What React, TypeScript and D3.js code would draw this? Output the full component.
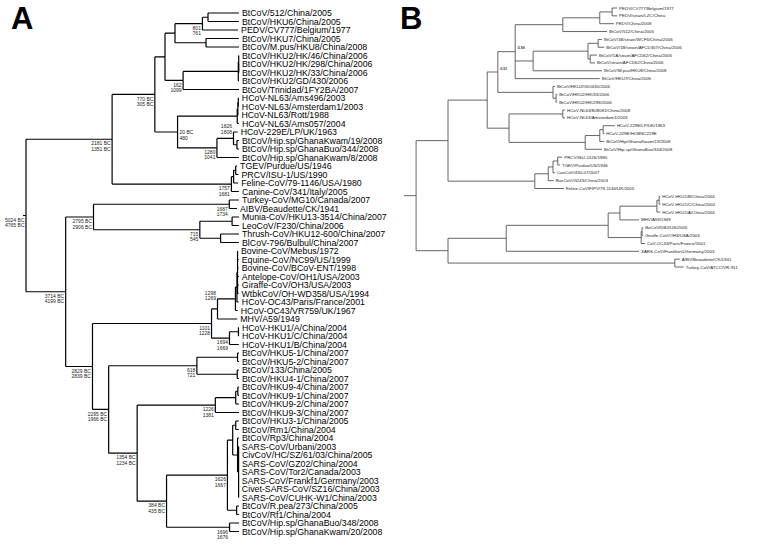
import React from 'react';
import * as d3 from 'd3';

interface Raw { name?: string; t?: number; d?: number; lab?: string[]; pos?: string; c?: Raw[] }
const L = (name: string, d?: number): Raw => ({ name, d });

// ---------------- Panel A : time-scaled tree (node ages in years; tips dated by their name) -------------
const A_batAlpha: Raw = { t: -435, c: [
  { t: -105, c: [
    { t: 801, lab: ['801', '761'], c: [
      { t: 985, c: [L('BtCoV/512/China/2005'), L('BtCoV/HKU6/China/2005')] },
      L('PEDV/CV777/Belgium/1977')] },
    { t: 919, c: [L('BtCoV/HKU7/China/2005'), L('BtCoV/M.pus/HKU8/China/2008')] }] },
  { t: 162, lab: ['162', '1099'], c: [
    { t: 1985, c: [
      { t: 1998, c: [L('BtCoV/HKU2/HK/46/China/2006'),
        { t: 2002, c: [L('BtCoV/HKU2/HK/298/China/2006'), L('BtCoV/HKU2/HK/33/China/2006')] }] },
      L('BtCoV/HKU2/GD/430/2006')] },
    L('BtCoV/Trinidad/1FY2BA/2007')] }] };

const A_nl63: Raw = { t: 1950, c: [
  { t: 1970, c: [{ t: 1985, c: [L('HCoV-NL63/Ams496/2003'), L('HCoV-NL63/Amsterdam1/2003')] }, L('HCoV-NL63/Rott/1988')] },
  L('HCoV-NL63/Ams057/2004')] };

const A_229e: Raw = { t: 1280, lab: ['1280', '1041'], c: [
  { t: 1826, lab: ['1826', '1808'], pos: 'lt', c: [L('HCoV-229E/LP/UK/1963'),
    { t: 1940, c: [L('BtCoV/Hip.sp/GhanaKwam/19/2008'), L('BtCoV/Hip.sp/GhanaBuo/344/2008')] }] },
  L('BtCoV/Hip.sp/GhanaKwam/8/2008')] };

const A_tgev: Raw = { t: 1757, lab: ['1757', '1681'], c: [
  { t: 1830, c: [{ t: 1900, c: [L('TGEV/Purdue/US/1946'), L('PRCV/ISU-1/US/1990')] }, L('Feline-CoV/79-1146/USA/1980')] },
  L('Canine-CoV/341/Italy/2005')] };

const A_alpha: Raw = { t: -2181, lab: ['2181 BC', '1351 BC'], c: [
  { t: -770, lab: ['770 BC', '305 BC'], c: [A_batAlpha, { t: -20, lab: ['20 BC', '480'], pos: 'r', c: [A_nl63, A_229e] }] },
  A_tgev] };

const A_gammaDelta: Raw = { t: -2795, lab: ['2795 BC', '2906 BC'], c: [
  { t: 1687, lab: ['1687', '1734'], c: [L('Turkey-CoV/MG10/Canada/2007'), L('AIBV/Beaudette/CK/1941')] },
  { t: 715, lab: ['715', '545'], c: [
    { t: 1780, c: [L('Munia-CoV/HKU13-3514/China/2007'), L('LeoCoV/F230/China/2006')] },
    { t: 1400, c: [L('Thrush-CoV/HKU12-600/China/2007'), L('BlCoV-796/Bulbul/China/2007')] }] }] };

const A_embeco: Raw = { t: 1101, lab: ['1101', '1228'], c: [
  { t: 1298, lab: ['1298', '1269'], pos: 'lt', c: [
    { t: 1890, c: [
      { t: 1940, c: [
        { t: 1960, c: [L('Bovine-CoV/Mebus/1972'), L('Equine-CoV/NC99/US/1999'), L('Bovine-CoV/BCoV-ENT/1998'),
          L('Antelope-CoV/OH1/USA/2003'), L('Giraffe-CoV/OH3/USA/2003'), L('WtbkCoV/OH-WD358/USA/1994')] },
        L('HCoV-OC43/Paris/France/2001')] },
      L('HCoV-OC43/VR759/UK/1967')] },
    L('MHV/A59/1949')] },
  { t: 1694, lab: ['1694', '1669'], c: [
    { t: 1990, c: [L('HCoV-HKU1/A/China/2004'), L('HCoV-HKU1/C/China/2004')] },
    L('HCoV-HKU1/B/China/2004')] }] };

const A_merbeco: Raw = { t: 618, lab: ['618', '721'], c: [
  { t: 1960, c: [L('BtCoV/HKU5-1/China/2007'), L('BtCoV/HKU5-2/China/2007')] },
  { t: 1950, c: [L('BtCoV/133/China/2005'), L('BtCoV/HKU4-1/China/2007')] }] };

const A_nobeco: Raw = { t: 1226, lab: ['1226', '1381'], c: [
  { t: 1900, c: [{ t: 1970, c: [L('BtCoV/HKU9-4/China/2007'), L('BtCoV/HKU9-1/China/2007')] }, L('BtCoV/HKU9-2/China/2007')] },
  L('BtCoV/HKU9-3/China/2007')] };

const A_sarbeco: Raw = { t: 1626, lab: ['1626', '1667'], c: [
  { t: 1800, c: [
    { t: 1900, c: [L('BtCoV/HKU3-1/China/2005'), L('BtCoV/Rm1/China/2004')] },
    { t: 1960, c: [L('BtCoV/Rp3/China/2004'),
      { t: 1995, c: [L('SARS-CoV/Urbani/2003'), L('CivCoV/HC/SZ/61/03/China/2005'), L('SARS-CoV/GZ02/China/2004'),
        L('SARS-CoV/Tor2/Canada/2003'), L('SARS-CoV/Frankf1/Germany/2003'), L('Civet-SARS-CoV/SZ16/China/2003'),
        L('SARS-CoV/CUHK-W1/China/2003')] }] }] },
  { t: 1930, c: [L('BtCoV/R.pea/273/China/2005'), L('BtCoV/Rf1/China/2004')] }] };

const A_ghanaBeta: Raw = { t: 1696, lab: ['1696', '1676'], c: [L('BtCoV/Hip.sp/GhanaBuo/348/2008'), L('BtCoV/Hip.sp/GhanaKwam/20/2008')] };

const A_beta: Raw = { t: -2829, lab: ['2829 BC', '2839 BC'], c: [
  A_embeco,
  { t: -2295, lab: ['2295 BC', '1966 BC'], c: [
    A_merbeco,
    { t: -1354, lab: ['1354 BC', '1234 BC'], c: [A_nobeco, { t: -384, lab: ['384 BC', '435 BC'], c: [A_sarbeco, A_ghanaBeta] }] }] }] };

const A_tree: Raw = { t: -5024, lab: ['5024 BC', '4765 BC'], c: [A_alpha, { t: -3714, lab: ['3714 BC', '4199 BC'], c: [A_gammaDelta, A_beta] }] };

// ---------------- Panel B : distance tree (node depth in substitutions/site) -------------
const B_bat1: Raw = { d: 0.195, lab: ['0.99'], c: [
  { d: 0.28, c: [{ d: 0.346, c: [{ d: 0.368, c: [L('PEDV/CV777/Belgium/1977', 0.377), L('PEDV/strain/LZC/China', 0.377)] }, L('PEDV/China/2008', 0.371)] }, L('BtCoV/512/China/2005', 0.359)] },
  { d: 0.227, c: [
    { d: 0.325, c: [
      { d: 0.343, c: [L('BtCoV/1B/strain/WCF6/China/2006', 0.35), L('BtCoV/1B/strain/AFCD307/China/2006', 0.354)] },
      { d: 0.329, c: [L('BtCoV/1A/strain/AFCD62/China/2006', 0.341), L('BtCoV/strain/AFCD62/China/2006', 0.3375)] }] },
    L('BtCoV/M.pus/HKU8/China/2008', 0.35)] },
  L('BtCoV/HKU7/China/2005', 0.346)] };

const B_hku2: Raw = { d: 0.2625, c: [L('BtCoV/HKU2/GD/430/2006', 0.266), { d: 0.268, c: [L('BtCoV/HKU2/HK/33/2006', 0.27), L('BtCoV/HKU2/HK/298/2006', 0.27)] }] };

const B_nl229: Raw = { d: 0.184, c: [
  { d: 0.28, c: [L('HCoV-NL63/BJ8081/China/2008', 0.284), L('HCoV-NL63/Amsterdam1/2003', 0.284)] },
  { d: 0.32, c: [
    { d: 0.346, c: [{ d: 0.352, c: [L('HCoV-229E/LP/UK/1963', 0.373), L('HCoV-229E/HOBNC229E', 0.354)] }, L('BtCoV/Hip/GhanaKwam/19/2008', 0.354)] },
    L('BtCoV/Hip.sp/GhanaBuo/344/2008', 0.35)] }] };

const B_tgev: Raw = { d: 0.23, c: [
  { d: 0.254, c: [{ d: 0.2625, c: [{ d: 0.271, c: [L('PRCV/ISU-1/US/1990', 0.279), L('TGEV/Purdue/US/1946', 0.275)] }, L('CanCoV/430-07/2007', 0.266)] }, L('RacCoV/G243/China/2003', 0.264)] },
  L('Feline-CoV/FIPV/79-1146/UK/2005', 0.282)] };

const B_beta: Raw = { d: 0.179, c: [
  { d: 0.361, c: [
    { d: 0.382, c: [{ d: 0.448, c: [{ d: 0.452, c: [L('HCoV-HKU1/B/China/2004', 0.454), L('HCoV-HKU1/C/China/2004', 0.454)] }, L('HCoV-HKU1/A/China/2004', 0.454)] }, L('MHV/A59/1949', 0.416)] },
    { d: 0.42, c: [{ d: 0.4215, c: [L('BoCoV/DB2/US/2006', 0.4235), L('Giraffe-CoV/OH3/USA/2003', 0.4235)] }, L('CoV-OC43/Paris/France/2001', 0.427)] }] },
  L('SARS-CoV/Frankfurt1/Germany/2003', 0.416)] };

const B_gamma: Raw = { d: 0.48, c: [L('AIBV/Beaudette/CK/1941', 0.489), L('Turkey-CoV/ATCC/VR-911', 0.496)] };

const B_tree: Raw = { d: 0.018, c: [
  { d: 0.075, c: [{ d: 0.145, c: [{ d: 0.164, lab: ['0.51'], c: [B_bat1, B_hku2] }, B_nl229] }, B_tgev] },
  { d: 0.075, c: [B_beta, B_gamma] }] };

// ---------------- layout helpers -------------
type P = d3.HierarchyNode<Raw> & { px: number; py: number };

function build(raw: Raw, xOf: (r: Raw) => number, yOf: (i: number) => number): P {
  const root = d3.hierarchy<Raw>(raw, r => r.c) as P;
  root.leaves().forEach((lf, i) => { (lf as P).py = yOf(i); });
  root.eachAfter(n => {
    const p = n as P;
    p.px = xOf(n.data);
    if (n.children) {
      const f = n.children[0] as P, l = n.children[n.children.length - 1] as P;
      p.py = (f.py + l.py) / 2;
    }
  });
  return root;
}

function edges(root: P, stub: number): string {
  let s = `M${root.px - stub},${root.py}H${root.px}`;
  root.each(n => {
    const p = n as P;
    if (n.parent) s += `M${(n.parent as P).px},${p.py}H${p.px}`;
    if (n.children) {
      const f = n.children[0] as P, l = n.children[n.children.length - 1] as P;
      s += `M${p.px},${f.py}V${l.py}`;
    }
  });
  return s;
}

const yearOf = (name: string) => +name.slice(-4);

export default function App() {
  const xA = d3.scaleLinear().domain([-5024, 2008]).range([26, 239]);
  const yA = d3.scaleLinear().domain([0, 61]).range([13, 531.5]);
  const rootA = build(A_tree, r => (r.name ? xA(yearOf(r.name)) : xA(r.t as number)), i => yA(i));

  const xB = d3.scaleLinear().domain([0, 0.5]).range([406, 686]);
  const yB = d3.scaleLinear().domain([0, 33]).range([8, 267]);
  const rootB = build(B_tree, r => xB(r.d as number), i => yB(i));

  const nodesA = rootA.descendants() as P[];
  const nodesB = rootB.descendants() as P[];

  const fontA = "'Liberation Sans', Arial, sans-serif";

  return (
    <svg width={768} height={544} viewBox="0 0 768 544" style={{ position: 'absolute', left: 0, top: 0, background: '#fff' }}>
      <rect width={768} height={544} fill="#fff" />
      <text x={11} y={29} fontFamily={fontA} fontWeight={900} fontSize={31} fill="#000">A</text>
      <text x={400} y={29} fontFamily={fontA} fontWeight={900} fontSize={31} fill="#000">B</text>

      {/* Panel A */}
      <path d={edges(rootA, 3)} fill="none" stroke="#000" strokeWidth={1.2} />
      {nodesA.filter(n => !n.children).map((n, i) => (
        <text key={'ta' + i} x={n.px + 3} y={n.py} dy="0.35em" fontFamily={fontA} fontSize={8.8} fill="#000">{n.data.name}</text>
      ))}
      {nodesA.filter(n => n.data.lab).map((n, i) => {
        const lab = n.data.lab as string[];
        const pos = n.data.pos || 'lb';
        const top = n.children ? (n.children[0] as P).py : n.py;
        let x = n.px - 1.5, y0 = n.py + 4.5, anchor = 'end';
        if (pos === 'lt') { y0 = top - 5.5; }
        if (pos === 'r') { x = n.px + 2; y0 = n.py + 0.5; anchor = 'start'; }
        return (
          <g key={'la' + i} fontFamily={fontA} fontSize={5} fill="#222" textAnchor={anchor as any}>
            <text x={x} y={y0} dy="0.35em">{lab[0]}</text>
            <text x={x} y={y0 + 5.3} dy="0.35em">{lab[1]}</text>
          </g>
        );
      })}

      {/* Panel B */}
      <path d={edges(rootB, 12)} fill="none" stroke="#555" strokeWidth={0.9} />
      {nodesB.filter(n => !n.children).map((n, i) => (
        <text key={'tb' + i} x={n.px + 2} y={n.py} dy="0.35em" fontFamily={fontA} fontSize={4.4} fill="#222">{n.data.name}</text>
      ))}
      {nodesB.filter(n => n.data.lab).map((n, i) => (
        <text key={'lb' + i} x={n.px + 2.5} y={n.py - 2.5} fontFamily={fontA} fontSize={3.6} fontWeight={700} fill="#333">{(n.data.lab as string[])[0]}</text>
      ))}
    </svg>
  );
}
